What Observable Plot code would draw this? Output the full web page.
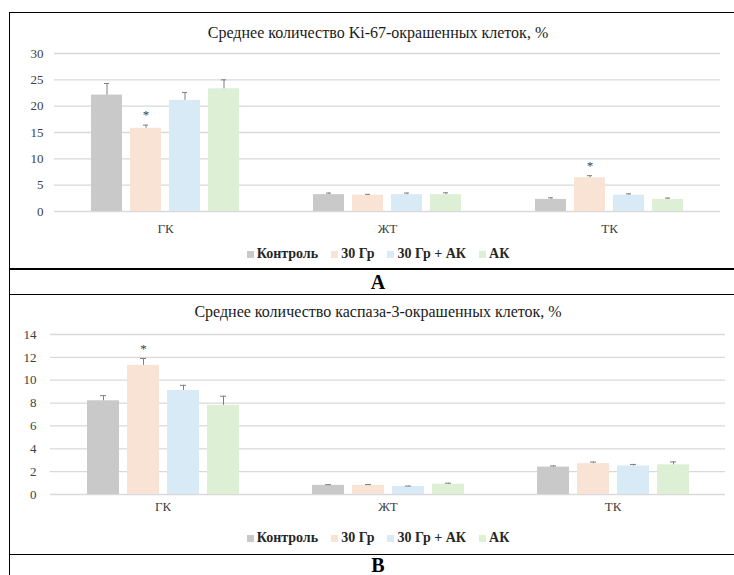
<!DOCTYPE html>
<html lang="ru">
<head>
<meta charset="utf-8">
<title>Ki-67 и каспаза-3</title>
<script src="https://cdn.jsdelivr.net/npm/d3@7"></script>
<script src="https://cdn.jsdelivr.net/npm/@observablehq/plot@0.6"></script>
<style>
  html, body { margin: 0; padding: 0; background: #fff; overflow: hidden; }
  #sheet { position: relative; width: 734px; height: 575px; overflow: hidden; font-family: "Liberation Serif", "Times New Roman", serif; }
  .hline { position: absolute; left: 9px; width: 725px; height: 1.5px; background: #000; }
  .vline { position: absolute; left: 8.5px; top: 11.5px; width: 1.5px; height: 564px; background: #000; }
  .title { position: absolute; left: 0; width: 756px; text-align: center; font-size: 16px; line-height: 18px; color: #1a1a1a; white-space: nowrap; }
  .letter { position: absolute; left: 0; width: 756px; text-align: center; font-size: 20px; font-weight: bold; line-height: 18px; color: #000; }
  .chart { position: absolute; left: 0; }
  #sheet .chart svg, #sheet .chart svg text { font-family: "Liberation Serif", "Times New Roman", serif !important; font-size: 13px; }
  .legend { position: absolute; left: 0; width: 756px; height: 16px; display: flex; justify-content: center; align-items: center; }
  #sheet .lg-swatches { font-family: "Liberation Serif", "Times New Roman", serif !important; font-size: 14px !important; font-weight: bold; color: #262626; margin: 0; min-height: 16px; justify-content: center; }
  #sheet .lg-swatch { margin-right: 13px; }
  #sheet .lg-swatch:last-child { margin-right: 0; }
  #sheet .lg-swatch > svg { margin-right: 3px; }
</style>
</head>
<body>
<div id="sheet">
  <div class="vline"></div>
  <div class="hline" style="top:11.5px"></div>
  <div class="hline" style="top:268px"></div>
  <div class="hline" style="top:293.5px"></div>
  <div class="hline" style="top:553.5px"></div>

  <div class="title" style="top:24px">Среднее количество Ki-67-окрашенных клеток, %</div>
  <div class="chart" id="chartA" style="top:40px"></div>
  <div class="legend" id="legendA" style="top:246px"></div>
  <div class="letter" style="top:273px">A</div>

  <div class="title" style="top:303px">Среднее количество каспаза-3-окрашенных клеток, %</div>
  <div class="chart" id="chartB" style="top:320px"></div>
  <div class="legend" id="legendB" style="top:530px"></div>
  <div class="letter" style="top:556px">B</div>
</div>
<script>
// Tissue groups and treatment series
const groups = ["ГК", "ЖТ", "ТК"];
const series = ["Контроль", "30 Гр", "30 Гр + АК", "АК"];
const colors = ["#c9c9c9", "#f8e3d5", "#d8eaf5", "#ddf0d6"];

// Ki-67: mean per group (rows) and series (columns), with upper error
const ki67Values = [
  [22.1, 15.8, 21.1, 23.3],
  [3.2, 3.1, 3.2, 3.2],
  [2.3, 6.4, 3.1, 2.3]
];
const ki67Errors = [
  [2.2, 0.6, 1.5, 1.7],
  [0.3, 0.15, 0.3, 0.35],
  [0.3, 0.4, 0.25, 0.25]
];
const ki67Significant = [["ГК", "30 Гр"], ["ТК", "30 Гр"]];
const ki67Ticks = [0, 5, 10, 15, 20, 25, 30];

// Caspase-3: mean per group and series, with upper error
const casp3Values = [
  [8.2, 11.3, 9.1, 7.8],
  [0.8, 0.8, 0.7, 0.9],
  [2.4, 2.7, 2.5, 2.6]
];
const casp3Errors = [
  [0.45, 0.6, 0.45, 0.8],
  [0.06, 0.07, 0.04, 0.09],
  [0.1, 0.14, 0.13, 0.25]
];
const casp3Significant = [["ГК", "30 Гр"]];
const casp3Ticks = [0, 2, 4, 6, 8, 10, 12, 14];

function rows(values, errors, significant) {
  const out = [];
  groups.forEach((g, i) => series.forEach((s, j) => {
    out.push({
      group: g,
      series: s,
      value: values[i][j],
      hi: values[i][j] + errors[i][j],
      star: significant.some(([sg, ss]) => sg === g && ss === s)
    });
  }));
  return out;
}

function chart(data, ticks, m) {
  const errColor = "#7f7f7f";
  return Plot.plot({
    width: 734,
    height: m.top + m.inner + m.bottom,
    marginLeft: m.left,
    marginRight: m.right,
    marginTop: m.top,
    marginBottom: m.bottom,
    style: { fontFamily: "'Liberation Serif', serif", fontSize: "13px", color: "#404040", background: "transparent" },
    fx: { domain: groups, padding: 0, axis: "bottom", label: null, tickSize: 0, tickPadding: m.fxPad },
    x: { domain: series, paddingInner: 0.2, paddingOuter: 0.88, axis: null },
    y: { domain: [0, ticks[ticks.length - 1]], ticks, label: null, tickSize: 0, tickPadding: m.yPad },
    color: { domain: series, range: colors },
    marks: [
      Plot.ruleY(ticks, { stroke: "#d9d9d9", strokeWidth: 1.3 }),
      Plot.barY(data, { fx: "group", x: "series", y: "value", fill: "series" }),
      Plot.ruleX(data, { fx: "group", x: "series", y1: "value", y2: "hi", stroke: errColor, strokeWidth: 1 }),
      Plot.tickY(data, { fx: "group", x: "series", y: "hi", stroke: errColor, strokeWidth: 1, insetLeft: 13, insetRight: 13 }),
      Plot.text(data.filter(d => d.star), { fx: "group", x: "series", y: "hi", text: () => "*", dy: -10, fontSize: 15, fill: "#404040" })
    ]
  });
}

function legend() {
  return Plot.legend({
    legend: "swatches",
    color: { domain: series, range: colors },
    swatchSize: 7,
    className: "lg"
  });
}

document.getElementById("chartA").append(
  chart(rows(ki67Values, ki67Errors, ki67Significant), ki67Ticks,
    { left: 53, right: 13, top: 13, inner: 158, bottom: 30, yPad: 11, fxPad: 12 })
);
document.getElementById("legendA").append(legend());

document.getElementById("chartB").append(
  chart(rows(casp3Values, casp3Errors, casp3Significant), casp3Ticks,
    { left: 49, right: 8, top: 14, inner: 160, bottom: 30, yPad: 14, fxPad: 7 })
);
document.getElementById("legendB").append(legend());
</script>
</body>
</html>
